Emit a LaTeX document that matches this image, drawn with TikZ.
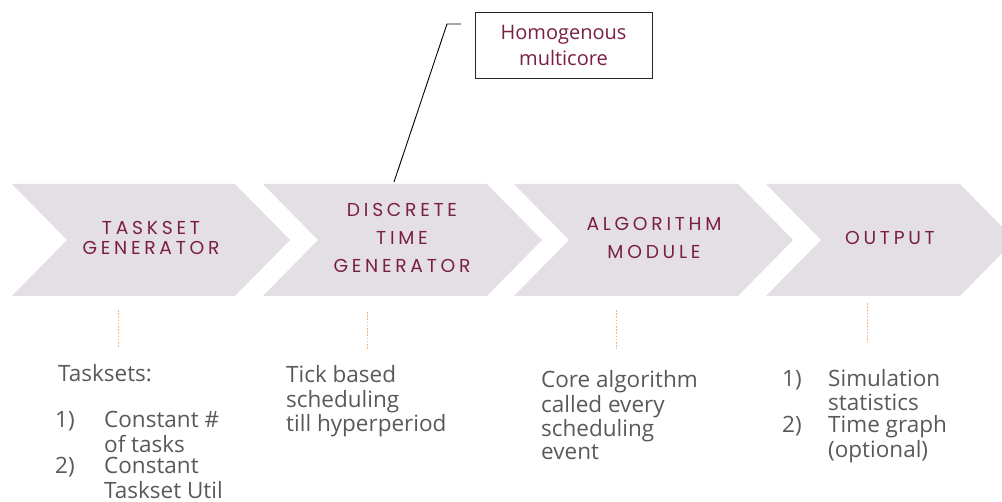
\documentclass[tikz,border=0pt]{standalone}
\usepackage{fontspec}
\setmainfont{Open Sans}
\newfontfamily\capsfont[LetterSpace=20]{Poppins}
\definecolor{chev}{HTML}{E4DFE5}
\definecolor{maroon}{HTML}{7B1E45}
\definecolor{bodygrey}{HTML}{595959}
\definecolor{dashorange}{HTML}{F4B183}
\tikzset{
  stage/.style={fill=chev, draw=none},
  stagetext/.style={text=maroon, font=\capsfont\fontsize{18.7}{20}\selectfont, inner sep=0pt, anchor=base},
  bodytext/.style={text=bodygrey, font=\fontsize{22.5}{23.5}\selectfont, inner sep=0pt, anchor=base west},
  leader/.style={draw=dashorange, line width=0.9pt, dash pattern=on 1.6pt off 1.6pt},
  notebox/.style={draw=black!85, line width=0.9pt, text=maroon, font=\fontsize{20}{26}\selectfont, align=center, minimum width=177pt, minimum height=66pt, inner sep=0pt},
}
% chevron with top-left corner at x = #1 and body length #2
\newcommand{\stagechevron}[2]{%
  \path[stage] (#1,184) -- ++(#2,0) -- ++(55,56) -- ++(-55,56) -- ++(-#2,0) -- ++(55,-56) -- cycle;}
% lines stacked with the first baseline as reference point
\newcommand{\lines}[1]{\begin{tabular}[t]{@{}l@{}}#1\end{tabular}}
\begin{document}
\begin{tikzpicture}[x=1pt,y=-1pt]
\useasboundingbox (0,0) rectangle (1002,502);
\clip (0,0) rectangle (1002,502);

% process chevrons
\stagechevron{12}{223}
\stagechevron{263}{224}
\stagechevron{514}{224}
\stagechevron{766}{194}

% chevron captions
\node[stagetext] (s1a) at (151,235) {TASKSET};
\node[stagetext] (s1b) at (151,254.5) {GENERATOR};
\node[stagetext] (s2a) at (402,217) {DISCRETE};
\node[stagetext] (s2b) at (402,245) {TIME};
\node[stagetext] (s2c) at (402,273) {GENERATOR};
\node[stagetext] (s3a) at (654,231) {ALGORITHM};
\node[stagetext] (s3b) at (654,259) {MODULE};
\node[stagetext] (s4a) at (890,245) {OUTPUT};

% note box with its leader line
\node[notebox] (hm) at (563.5,45) {Homogenous\\multicore};
\coordinate (hmstart) at (461,24);
\coordinate (hmbend) at (447,24);
\coordinate (hmfoot) at (394,182);
\draw[black, line width=0.9pt] (hmstart) -- (hmbend) -- (hmfoot);

% dashed leaders under each stage
\coordinate (d1t) at (118,310); \coordinate (d1b) at (118,348);
\coordinate (d2t) at (367,312); \coordinate (d2b) at (367,350);
\coordinate (d3t) at (616,310); \coordinate (d3b) at (616,349);
\coordinate (d4t) at (867,303); \coordinate (d4b) at (867,342);
\draw[leader] (d1t) -- (d1b);
\draw[leader] (d2t) -- (d2b);
\draw[leader] (d3t) -- (d3b);
\draw[leader] (d4t) -- (d4b);

% descriptions
\node[bodytext] (t1) at (58,382) {Tasksets:};
\node[bodytext] (t1n1) at (55,428) {1)};
\node[bodytext] (t1i1) at (104,428) {\lines{Constant \#\\of tasks}};
\node[bodytext] (t1n2) at (55,474) {2)};
\node[bodytext] (t1i2) at (104,474) {\lines{Constant\\Taskset Util}};

\node[bodytext] (t2) at (286,383) {\lines{Tick based\\scheduling\\till hyperperiod}};

\node[bodytext] (t3) at (541,388) {\lines{Core algorithm\\called every\\scheduling\\event}};

\node[bodytext] (t4n1) at (782,387) {1)};
\node[bodytext] (t4i1) at (828,387) {\lines{Simulation\\statistics}};
\node[bodytext] (t4n2) at (782,433) {2)};
\node[bodytext] (t4i2) at (828,433) {\lines{Time graph\\(optional)}};
\end{tikzpicture}
\end{document}
